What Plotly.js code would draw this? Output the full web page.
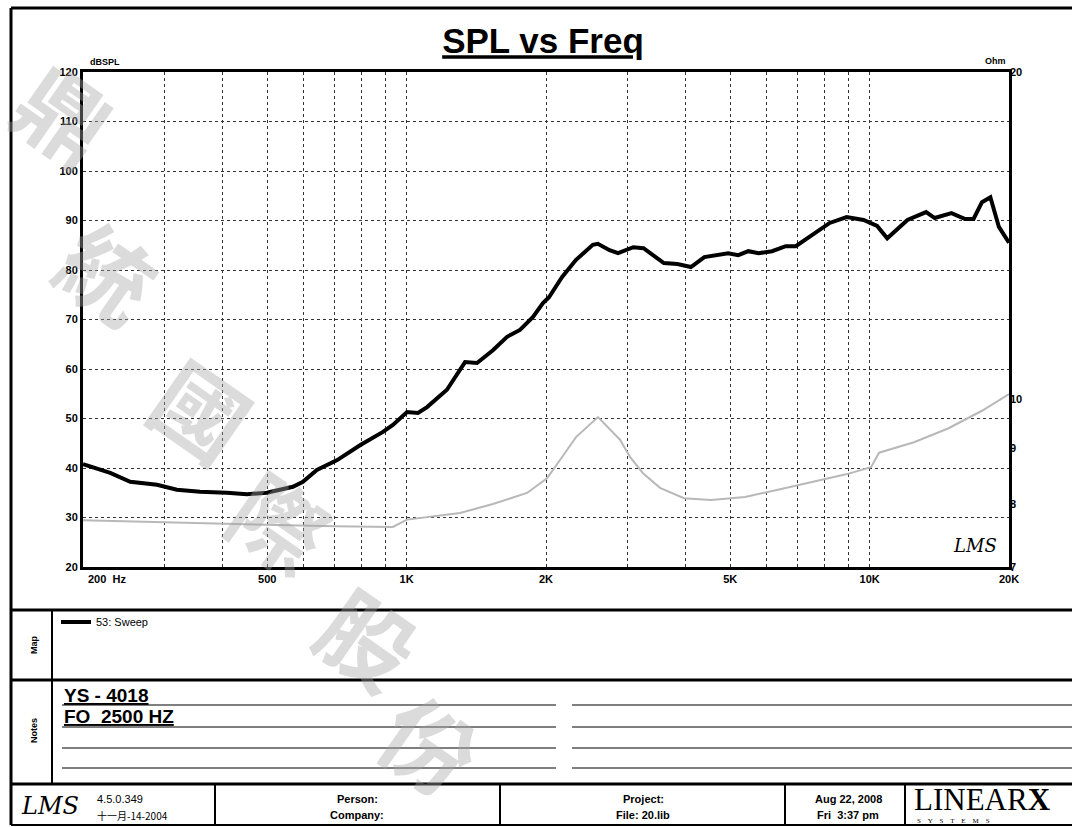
<!DOCTYPE html>
<html>
<head>
<meta charset="utf-8">
<script src="https://cdn.plot.ly/plotly-3.0.1.min.js"></script>
<style>
html,body{margin:0;padding:0;background:#fff;}
#chart{width:1072px;height:827px;}
</style>
</head>
<body>
<div id="chart"></div>
<script>
// ---------- DATA ----------
const splFreq = [200, 229, 253, 289, 319, 358, 409, 452, 499, 568, 597, 640, 708, 793, 889, 934, 1002, 1058, 1107, 1222, 1337, 1419, 1536, 1648, 1757, 1875, 1970, 2030, 2167, 2320, 2524, 2588, 2744, 2862, 3088, 3248, 3594, 3843, 4112, 4396, 4948, 5204, 5472, 5758, 6156, 6588, 6926, 7540, 8200, 8921, 9703, 10380, 10916, 12070, 13245, 13823, 15026, 16080, 16766, 17485, 18230, 19020, 20000];
const splValues = [40.8, 39.0, 37.2, 36.6, 35.6, 35.2, 35.0, 34.7, 35.0, 36.2, 37.2, 39.6, 41.6, 44.6, 47.3, 48.7, 51.3, 51.1, 52.3, 55.8, 61.4, 61.2, 63.8, 66.5, 67.9, 70.5, 73.3, 74.5, 78.6, 82.0, 85.1, 85.3, 84.0, 83.4, 84.6, 84.4, 81.4, 81.2, 80.6, 82.6, 83.4, 83.0, 83.8, 83.4, 83.8, 84.8, 84.8, 87.1, 89.5, 90.7, 90.1, 88.9, 86.4, 90.1, 91.7, 90.5, 91.5, 90.3, 90.3, 93.7, 94.7, 88.7, 85.5];

const impFreq = [200, 358, 500, 700, 934, 1002, 1304, 1536, 1820, 2010, 2167, 2322, 2590, 2890, 3037, 3240, 3526, 3973, 4544, 5380, 6373, 7546, 8892, 10070, 10480, 12467, 14770, 17486, 20000];
const impValues = [7.73, 7.68, 7.65, 7.63, 7.62, 7.74, 7.85, 8.0, 8.19, 8.45, 8.84, 9.22, 9.62, 9.17, 8.84, 8.54, 8.28, 8.10, 8.07, 8.12, 8.25, 8.38, 8.52, 8.65, 8.92, 9.12, 9.39, 9.75, 10.1];

const xGridVals = [200, 300, 400, 500, 600, 700, 800, 900, 1000, 2000, 3000, 4000, 5000, 6000, 7000, 8000, 9000, 10000, 20000];
const xTickText = ['', '', '', '500', '', '', '', '', '1K', '2K', '', '', '5K', '', '', '', '', '10K', '20K'];
const yTickVals = [20, 30, 40, 50, 60, 70, 80, 90, 100, 110, 120];
const ohmTickVals = [7, 8, 9, 10, 20];
const ohmTickText = ['7', '8', '9', '10', '20'];

const seriesName = '53: Sweep';
const titleText = 'SPL vs Freq';
const notesLines = ['YS - 4018', 'FO  2500 HZ'];
const watermarkChars = ['鼎', '統', '國', '際', '股', '份'];

// ---------- GEOMETRY HELPERS (pixel -> paper) ----------
const L = 83, R = 1009, T = 72, B = 567;
const W = 1072, H = 827;
function px(x) { return (x - L) / (R - L); }
function py(y) { return (B - y) / (B - T); }

const FONT = 'Liberation Sans, Arial, sans-serif';

function hline(y, x0, x1, w, dash) {
  return {type: 'line', xref: 'paper', yref: 'paper', x0: px(x0), x1: px(x1), y0: py(y), y1: py(y),
          line: {color: '#000', width: w, dash: dash || 'solid'}};
}
function vline(x, y0, y1, w) {
  return {type: 'line', xref: 'paper', yref: 'paper', x0: px(x), x1: px(x), y0: py(y0), y1: py(y1),
          line: {color: '#000', width: w}};
}
function txt(x, y, text, opts) {
  opts = opts || {};
  return Object.assign({
    xref: 'paper', yref: 'paper', x: px(x), y: py(y), text: text, showarrow: false,
    xanchor: 'center', yanchor: 'middle',
    font: {family: FONT, size: 11, color: '#000', weight: 'bold'}
  }, opts);
}

// ---------- TRACES ----------
const traces = [
  {
    x: splFreq, y: splValues, type: 'scatter', mode: 'lines', name: seriesName,
    line: {color: '#000', width: 4, shape: 'linear'}, showlegend: true
  },
  {
    x: impFreq, y: impValues, type: 'scatter', mode: 'lines', name: 'Impedance',
    yaxis: 'y2', line: {color: '#b8b8b8', width: 2}, showlegend: false
  }
];

// ---------- SHAPES ----------
const shapes = [];
shapes.push(hline(8, 11, 1072, 3));
shapes.push(vline(11, 8, 825, 3));
shapes.push(hline(610, 11, 1072, 3));
shapes.push(hline(680, 11, 1072, 3));
shapes.push(hline(784, 11, 1072, 3));
shapes.push(hline(825, 11, 1072, 2));
shapes.push(vline(52, 610, 784, 2));
[705, 727, 748, 768].forEach(function (y) {
  shapes.push(hline(y, 62, 556, 1.2));
  shapes.push(hline(y, 572, 1072, 1.2));
});
[215, 500, 785, 905].forEach(function (x) { shapes.push(vline(x, 784, 825, 2)); });

// ---------- ANNOTATIONS ----------
const annotations = [];
const wmPos = [[66, 112], [110, 270], [203, 408], [282, 520], [370, 636], [432, 742]];
watermarkChars.forEach(function (c, i) {
  annotations.push(txt(wmPos[i][0], wmPos[i][1], c, {
    textangle: 35,
    font: {family: 'Noto Sans CJK TC', size: 92, color: 'rgba(165,165,165,0.4)', weight: 'bold'}
  }));
});
annotations.push(txt(88, 62, 'dBSPL', {xanchor: 'left', font: {family: FONT, size: 9, color: '#000', weight: 'bold'}}));
annotations.push(txt(1008, 61, 'Ohm', {xanchor: 'right', font: {family: FONT, size: 9, color: '#000', weight: 'bold'}}));
annotations.push(txt(86, 579, '200  Hz', {xanchor: 'left', font: {family: FONT, size: 11, color: '#000', weight: 'bold'}}));
annotations.push(txt(975, 545, 'LMS', {font: {family: 'DejaVu Serif', size: 18, color: '#000', style: 'italic'}}));
annotations.push(txt(34, 645, 'Map', {textangle: -90, font: {family: FONT, size: 9, color: '#000', weight: 'bold'}}));
annotations.push(txt(34, 731, 'Notes', {textangle: -90, font: {family: FONT, size: 9, color: '#000', weight: 'bold'}}));
annotations.push(txt(62, 695, notesLines[0], {xanchor: 'left', font: {family: FONT, size: 19, color: '#000', weight: 'bold', lineposition: 'under'}}));
annotations.push(txt(62, 716, notesLines[1], {xanchor: 'left', font: {family: FONT, size: 19, color: '#000', weight: 'bold', lineposition: 'under'}}));
annotations.push(txt(50, 806, 'LMS', {font: {family: 'DejaVu Serif', size: 24, color: '#000', style: 'italic'}}));
annotations.push(txt(95, 799, '4.5.0.349', {xanchor: 'left', font: {family: FONT, size: 11, color: '#000', weight: 'normal'}}));
annotations.push(txt(95, 815, '十一月-14-2004', {xanchor: 'left', font: {family: 'Noto Sans CJK TC', size: 10, color: '#000', weight: 'normal'}}));
annotations.push(txt(357, 799, 'Person:'));
annotations.push(txt(357, 815, 'Company:'));
annotations.push(txt(643, 799, 'Project:'));
annotations.push(txt(643, 815, 'File: 20.lib'));
annotations.push(txt(848, 799, 'Aug 22, 2008'));
annotations.push(txt(848, 815, 'Fri  3:37 pm'));
annotations.push(txt(912, 799, 'LINEAR<b>X</b>', {xanchor: 'left', font: {family: 'Liberation Serif', size: 31, color: '#000', weight: 'normal'}}));
annotations.push(txt(915, 821, 'S    Y    S    T    E    M    S', {xanchor: 'left', font: {family: 'Liberation Serif', size: 7, color: '#000', weight: 'normal'}}));

// ---------- LAYOUT ----------
const layout = {
  width: W, height: H,
  margin: {l: L, r: W - R, t: T, b: H - B, pad: 0},
  paper_bgcolor: '#fff', plot_bgcolor: '#fff',
  title: {
    text: titleText, x: 543 / W, xanchor: 'center', y: 1 - 41 / H, yanchor: 'middle',
    font: {family: FONT, size: 35, color: '#000', weight: 'bold', lineposition: 'under'}
  },
  xaxis: {
    type: 'log', range: [Math.log10(200), Math.log10(20000)],
    tickvals: xGridVals, ticktext: xTickText, ticks: '',
    showgrid: true, gridcolor: '#333', griddash: 'dot', gridwidth: 1,
    showline: true, linecolor: '#000', linewidth: 3, mirror: true, zeroline: false,
    tickfont: {family: FONT, size: 11, color: '#000', weight: 'bold'}
  },
  yaxis: {
    range: [20, 120], tickvals: yTickVals, ticks: '',
    showgrid: true, gridcolor: '#333', griddash: 'dot', gridwidth: 1,
    showline: true, linecolor: '#000', linewidth: 3, mirror: true, zeroline: false,
    tickfont: {family: FONT, size: 11, color: '#000', weight: 'bold'}
  },
  yaxis2: {
    type: 'log', range: [Math.log10(7), Math.log10(20)], overlaying: 'y', side: 'right',
    tickvals: ohmTickVals, ticktext: ohmTickText, ticks: '', showgrid: false, showline: false, zeroline: false,
    tickfont: {family: FONT, size: 11, color: '#000', weight: 'bold'}
  },
  showlegend: true,
  legend: {
    x: px(56), y: py(622), xanchor: 'left', yanchor: 'middle', bgcolor: 'rgba(0,0,0,0)',
    font: {family: FONT, size: 11, color: '#000'}, itemwidth: 30
  },
  shapes: shapes,
  annotations: annotations
};

Plotly.newPlot('chart', traces, layout, {staticPlot: true, displayModeBar: false});
</script>
</body>
</html>
